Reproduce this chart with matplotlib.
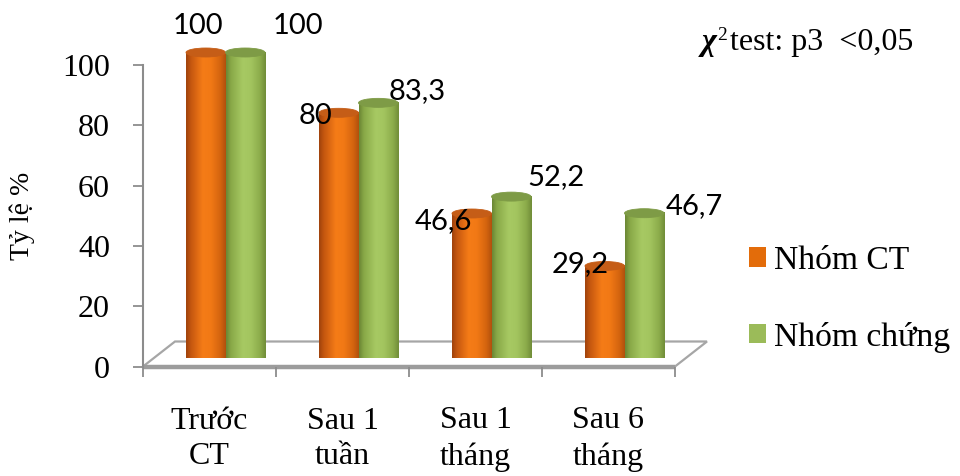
import numpy as np
import matplotlib
matplotlib.use("Agg")
import matplotlib.pyplot as plt
from matplotlib.patches import Ellipse, PathPatch, Polygon, Patch
from matplotlib.path import Path
from matplotlib.colors import LinearSegmentedColormap
from matplotlib.lines import Line2D

# ---- data ----
categories = ["Trước\nCT", "Sau 1\ntuần", "Sau 1\ntháng", "Sau 6\ntháng"]
series_names = ["Nhóm CT", "Nhóm chứng"]
nhom_ct = [100, 80, 46.6, 29.2]
nhom_chung = [100, 83.3, 52.2, 46.7]
labels_ct = ["100", "80", "46,6", "29,2"]
labels_chung = ["100", "83,3", "52,2", "46,7"]
y_ticks = [0, 20, 40, 60, 80, 100]

# ---- styling ----
SERIF = "Liberation Serif"
LABEL_FONT = "Lato"
PX = 72 / 100  # points per pixel at dpi 100

W, H = 960, 476
fig = plt.figure(figsize=(W / 100, H / 100), dpi=100)
ax_left, ax_right = 143, 675
ax_top, ax_bottom = 65, 366.5
ax = fig.add_axes([ax_left / W, (H - ax_bottom) / H,
                   (ax_right - ax_left) / W, (ax_bottom - ax_top) / H])

px_per_x = (ax_right - ax_left) / 4.0
px_per_y = (ax_bottom - ax_top) / 100.0

# 3-D floor depth (in data units)
depth_x = 32 / px_per_x
depth_y = 25 / px_per_y
bar_w = 39.5 / px_per_x
ell_h = 9 / px_per_y

orange_cmap = LinearSegmentedColormap.from_list("orange_cyl", [
    (0.00, "#9E420C"), (0.12, "#C4560F"), (0.42, "#F57C17"),
    (0.62, "#F27915"), (0.86, "#D4640F"), (1.00, "#B0500D")])
green_cmap = LinearSegmentedColormap.from_list("green_cyl", [
    (0.00, "#6A8534"), (0.12, "#88A847"), (0.42, "#A7C963"),
    (0.62, "#A3C55F"), (0.86, "#8BAB4A"), (1.00, "#708C38")])
top_colors = ["#C55D17", "#7E9B46"]
legend_colors = ["#E36C0A", "#9BBB59"]

# floor
floor = Polygon([(-0.5, 0), (3.5, 0), (3.5 + depth_x, depth_y), (-0.5 + depth_x, depth_y)],
                closed=True, facecolor="white", edgecolor="#A6A6A6", lw=1.6,
                zorder=1, clip_on=False)
ax.add_patch(floor)
ax.add_line(Line2D([-0.5, 3.5], [0, 0], color="#9C9C9C", lw=3.2, zorder=1.5,
                   clip_on=False, solid_capstyle="butt"))

grad = np.linspace(0, 1, 256)[np.newaxis, :]
base = depth_y / 2.0
t = np.linspace(np.pi, 2 * np.pi, 60)


def cylinder(xc, value, cmap, top_color, z):
    x0, x1 = xc - bar_w / 2, xc + bar_w / 2
    top = base + value
    verts = [(x0, top), (x0, base)]
    verts += list(zip(xc + bar_w / 2 * np.cos(t), base + ell_h / 2 * np.sin(t)))
    verts += [(x1, top), (x0, top)]
    codes = [Path.MOVETO] + [Path.LINETO] * (len(verts) - 2) + [Path.CLOSEPOLY]
    body = PathPatch(Path(verts, codes), facecolor="none", edgecolor="none",
                     transform=ax.transData, clip_on=False)
    ax.add_patch(body)
    im = ax.imshow(grad, extent=[x0, x1, base - ell_h / 2, top], cmap=cmap,
                   aspect="auto", interpolation="bicubic", zorder=z, clip_on=False)
    im.set_clip_path(body)
    ax.add_patch(Ellipse((xc, top), bar_w, ell_h, facecolor=top_color,
                         edgecolor=top_color, lw=0.6, zorder=z + 0.1, clip_on=False))
    return top


# label offsets (pixels, relative to each cylinder top)
off_ct = [(-7.6, 26.5), (-23, -3.5), (-28, -8), (-24.5, 2)]
off_chung = [(53, 26.5), (39, 11.5), (45, 20), (50, 7.5)]

shift = depth_x / 2.0
for i in range(len(categories)):
    xo = i - bar_w / 2 + shift
    xg = i + bar_w / 2 + shift
    to = cylinder(xo, nhom_ct[i], orange_cmap, top_colors[0], 3)
    tg = cylinder(xg, nhom_chung[i], green_cmap, top_colors[1], 3)
    for xc, tp, txt, off in [(xo, to, labels_ct[i], off_ct[i]),
                             (xg, tg, labels_chung[i], off_chung[i])]:
        ax.annotate(txt, xy=(xc, tp), xytext=(off[0] * PX, off[1] * PX),
                    textcoords="offset points", ha="center", va="center",
                    fontsize=21, family=LABEL_FONT, color="black", zorder=6,
                    annotation_clip=False)

ax.set_xlim(-0.5, 3.5)
ax.set_ylim(0, 100)

# axes styling
for side in ["top", "right", "bottom"]:
    ax.spines[side].set_visible(False)
ax.spines["left"].set_color("#8C8C8C")
ax.spines["left"].set_linewidth(1.5)
ax.set_yticks(y_ticks)
ax.set_yticklabels([str(v) for v in y_ticks], fontsize=23, family=SERIF)
ax.tick_params(axis="y", direction="out", length=10 * PX, width=1.3,
               color="#8C8C8C", pad=23 * PX)
ax.set_xticks([-0.5, 0.5, 1.5, 2.5, 3.5])
ax.set_xticklabels([])
ax.tick_params(axis="x", direction="out", length=10 * PX, width=1.3, color="#8C8C8C")

for i, cat in enumerate(categories):
    ax.annotate(cat, xy=(i, 0), xycoords=("data", "axes fraction"),
                xytext=(0, -72.5 * PX), textcoords="offset points",
                ha="center", va="center", multialignment="center",
                fontsize=23, family=SERIF, linespacing=1.3, annotation_clip=False)

fig.text(22 / W, 1 - 216 / H, "Tỷ lệ %", rotation=90, ha="center", va="center",
         fontsize=20, family=SERIF)

# legend
handles = [Patch(facecolor=c, edgecolor="none") for c in legend_colors]
fig.legend(handles, series_names, loc="center left",
           bbox_to_anchor=(749 / W, 1 - 299 / H), frameon=False,
           prop={"family": SERIF, "size": 24.2}, borderpad=0, borderaxespad=0,
           handlelength=0.5, handleheight=0.5, handletextpad=0.24,
           labelspacing=1.36)

# chi-square annotation: bold italic chi, superscript 2, then the test text
baseline_y = 1 - 50 / H
chi = fig.text(702 / W, baseline_y, "χ", fontsize=23, family=SERIF,
               fontweight="bold", style="italic", ha="left", va="baseline")
fig.canvas.draw()
bb = chi.get_window_extent()
sup = fig.text((bb.x1 + 0.5) / W, baseline_y + 10 / H, "2", fontsize=14,
               family=SERIF, ha="left", va="baseline")
fig.canvas.draw()
bb2 = sup.get_window_extent()
fig.text((bb2.x1 + 3) / W, baseline_y, "test: p3  <0,05", fontsize=23,
         family=SERIF, ha="left", va="baseline")

fig.savefig("out.png", dpi=100)
